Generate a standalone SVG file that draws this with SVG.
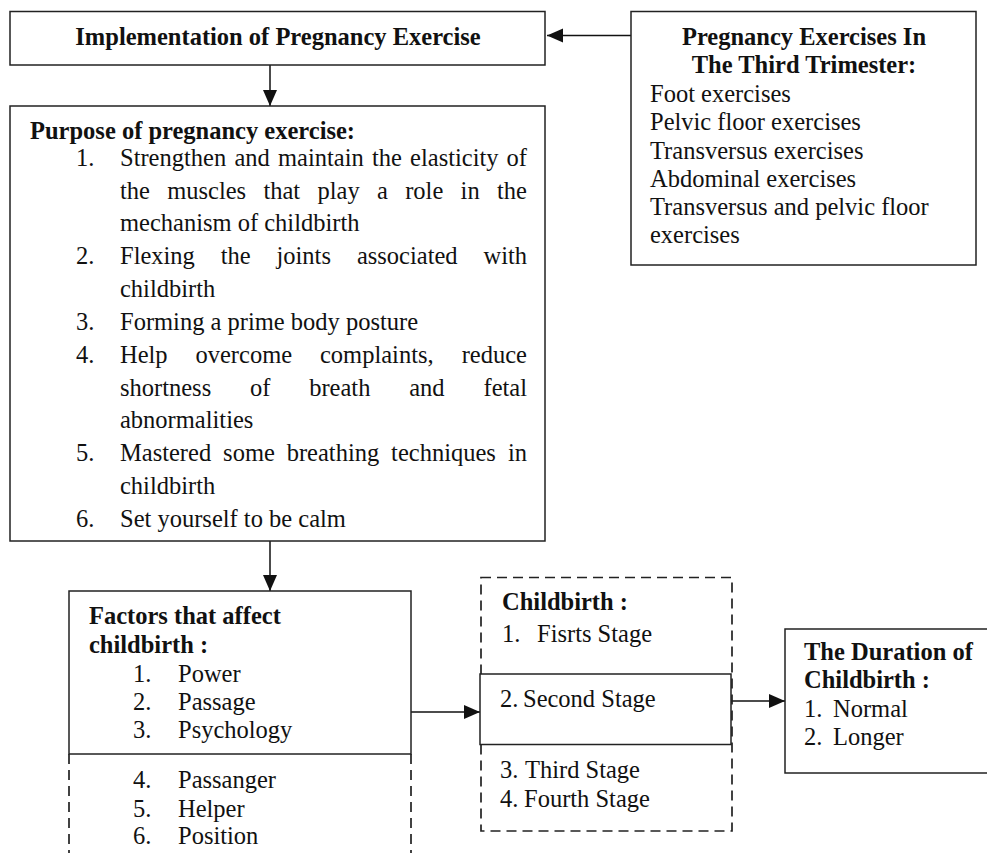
<svg xmlns="http://www.w3.org/2000/svg" width="987" height="853" viewBox="0 0 987 853">
<style>
.box{fill:#fff;stroke:#222;stroke-width:1.5}
.dash{fill:none;stroke:#222;stroke-width:1.7;stroke-dasharray:10 6}
.t{font-family:"Liberation Serif","Times New Roman",serif;font-size:24.5px;fill:#111}
.b{font-weight:bold}
.c{text-anchor:middle}
.e{text-anchor:end}
.ln{stroke:#111;stroke-width:1.5;fill:none}
</style>
<defs>
<marker id="ah" markerUnits="userSpaceOnUse" markerWidth="17" markerHeight="15" refX="16" refY="7" orient="auto">
<path d="M0,0 L16,7 L0,14 Z" fill="#111"/>
</marker>
</defs>
<rect width="987" height="853" fill="#fff"/>

<g id="connectors">
<line class="ln" x1="631" y1="35.5" x2="547" y2="35.5" marker-end="url(#ah)"/>
<line class="ln" x1="270" y1="65" x2="270" y2="106" marker-end="url(#ah)"/>
<line class="ln" x1="270" y1="541" x2="270" y2="591" marker-end="url(#ah)"/>
<line class="ln" x1="411" y1="712" x2="480" y2="712" marker-end="url(#ah)"/>
<line class="ln" x1="731" y1="701" x2="785" y2="701" marker-end="url(#ah)"/>
</g>

<g id="implementation">
<rect class="box" x="10" y="11.5" width="535" height="53.5"/>
<text class="t b c" x="278" y="45">Implementation of Pregnancy Exercise</text>
</g>

<g id="third-trimester">
<rect class="box" x="631" y="11.5" width="345" height="253.5"/>
<text class="t b c" x="804" y="45">Pregnancy Exercises In</text>
<text class="t b c" x="804" y="73">The Third Trimester:</text>
<text class="t" x="650" y="102">Foot exercises</text>
<text class="t" x="650" y="130">Pelvic floor exercises</text>
<text class="t" x="650" y="159">Transversus exercises</text>
<text class="t" x="650" y="187">Abdominal exercises</text>
<text class="t" x="650" y="215">Transversus and pelvic floor</text>
<text class="t" x="650" y="243">exercises</text>
</g>

<g id="purpose">
<rect class="box" x="10" y="106" width="535" height="435"/>
<text class="t b" x="30" y="139">Purpose of pregnancy exercise:</text>
<text class="t" x="76" y="166">1.</text>
<text class="t" y="166"><tspan x="120">Strengthen</tspan><tspan x="234.4">and</tspan><tspan x="278">maintain</tspan><tspan x="372">the</tspan><tspan x="410.1">elasticity</tspan></text>
<text class="t e" x="527" y="166">of</text>
<text class="t" y="198.5"><tspan x="120">the</tspan><tspan x="167.2">muscles</tspan><tspan x="263.4">that</tspan><tspan x="317.5">play</tspan><tspan x="377">a</tspan><tspan x="405.2">role</tspan><tspan x="460.6">in</tspan></text>
<text class="t e" x="527" y="198.5">the</text>
<text class="t" x="120" y="231">mechanism of childbirth</text>
<text class="t" x="76" y="264">2.</text>
<text class="t" y="264"><tspan x="120">Flexing</tspan><tspan x="220.8">the</tspan><tspan x="276.5">joints</tspan><tspan x="356.9">associated</tspan></text>
<text class="t e" x="527" y="264">with</text>
<text class="t" x="120" y="297">childbirth</text>
<text class="t" x="76" y="330">3.</text>
<text class="t" x="120" y="330">Forming a prime body posture</text>
<text class="t" x="76" y="362.5">4.</text>
<text class="t" y="362.5"><tspan x="120">Help</tspan><tspan x="195.5">overcome</tspan><tspan x="320">complaints,</tspan></text>
<text class="t e" x="527" y="362.5">reduce</text>
<text class="t" y="395.5"><tspan x="120">shortness</tspan><tspan x="250">of</tspan><tspan x="309.2">breath</tspan><tspan x="409.2">and</tspan></text>
<text class="t e" x="527" y="395.5">fetal</text>
<text class="t" x="120" y="428">abnormalities</text>
<text class="t" x="76" y="461">5.</text>
<text class="t" y="461"><tspan x="120">Mastered</tspan><tspan x="223.1">some</tspan><tspan x="286.7">breathing</tspan><tspan x="391.1">techniques</tspan></text>
<text class="t e" x="527" y="461">in</text>
<text class="t" x="120" y="494">childbirth</text>
<text class="t" x="76" y="526.5">6.</text>
<text class="t" x="120" y="526.5">Set yourself to be calm</text>
</g>

<g id="factors">
<rect class="box" x="69" y="591" width="342" height="163"/>
<line class="dash" x1="69" y1="754" x2="69" y2="853"/>
<line class="dash" x1="411" y1="754" x2="411" y2="853"/>
<text class="t b" x="89" y="624">Factors that affect</text>
<text class="t b" x="89" y="653">childbirth :</text>
<text class="t" x="133" y="682">1.</text><text class="t" x="178" y="682">Power</text>
<text class="t" x="133" y="710">2.</text><text class="t" x="178" y="710">Passage</text>
<text class="t" x="133" y="738">3.</text><text class="t" x="178" y="738">Psychology</text>
<text class="t" x="133" y="788">4.</text><text class="t" x="178" y="788">Passanger</text>
<text class="t" x="133" y="817">5.</text><text class="t" x="178" y="817">Helper</text>
<text class="t" x="133" y="844">6.</text><text class="t" x="178" y="844">Position</text>
</g>

<g id="childbirth">
<rect class="dash" x="481" y="577.5" width="251" height="253.5"/>
<rect class="box" x="480" y="674" width="251" height="70.5"/>
<text class="t b" x="502" y="610">Childbirth :</text>
<text class="t" x="502" y="642">1.</text><text class="t" x="537" y="642">Fisrts Stage</text>
<text class="t" x="500" y="707">2.</text><text class="t" x="523" y="707">Second Stage</text>
<text class="t" x="500" y="778">3.</text><text class="t" x="525" y="778">Third Stage</text>
<text class="t" x="500" y="807">4.</text><text class="t" x="524" y="807">Fourth Stage</text>
</g>

<g id="duration">
<rect class="box" x="785" y="629" width="215" height="144"/>
<text class="t b" x="804" y="660">The Duration of</text>
<text class="t b" x="804" y="688">Childbirth :</text>
<text class="t" x="804" y="717">1.</text><text class="t" x="833" y="717">Normal</text>
<text class="t" x="804" y="745">2.</text><text class="t" x="833" y="745">Longer</text>
</g>
</svg>
